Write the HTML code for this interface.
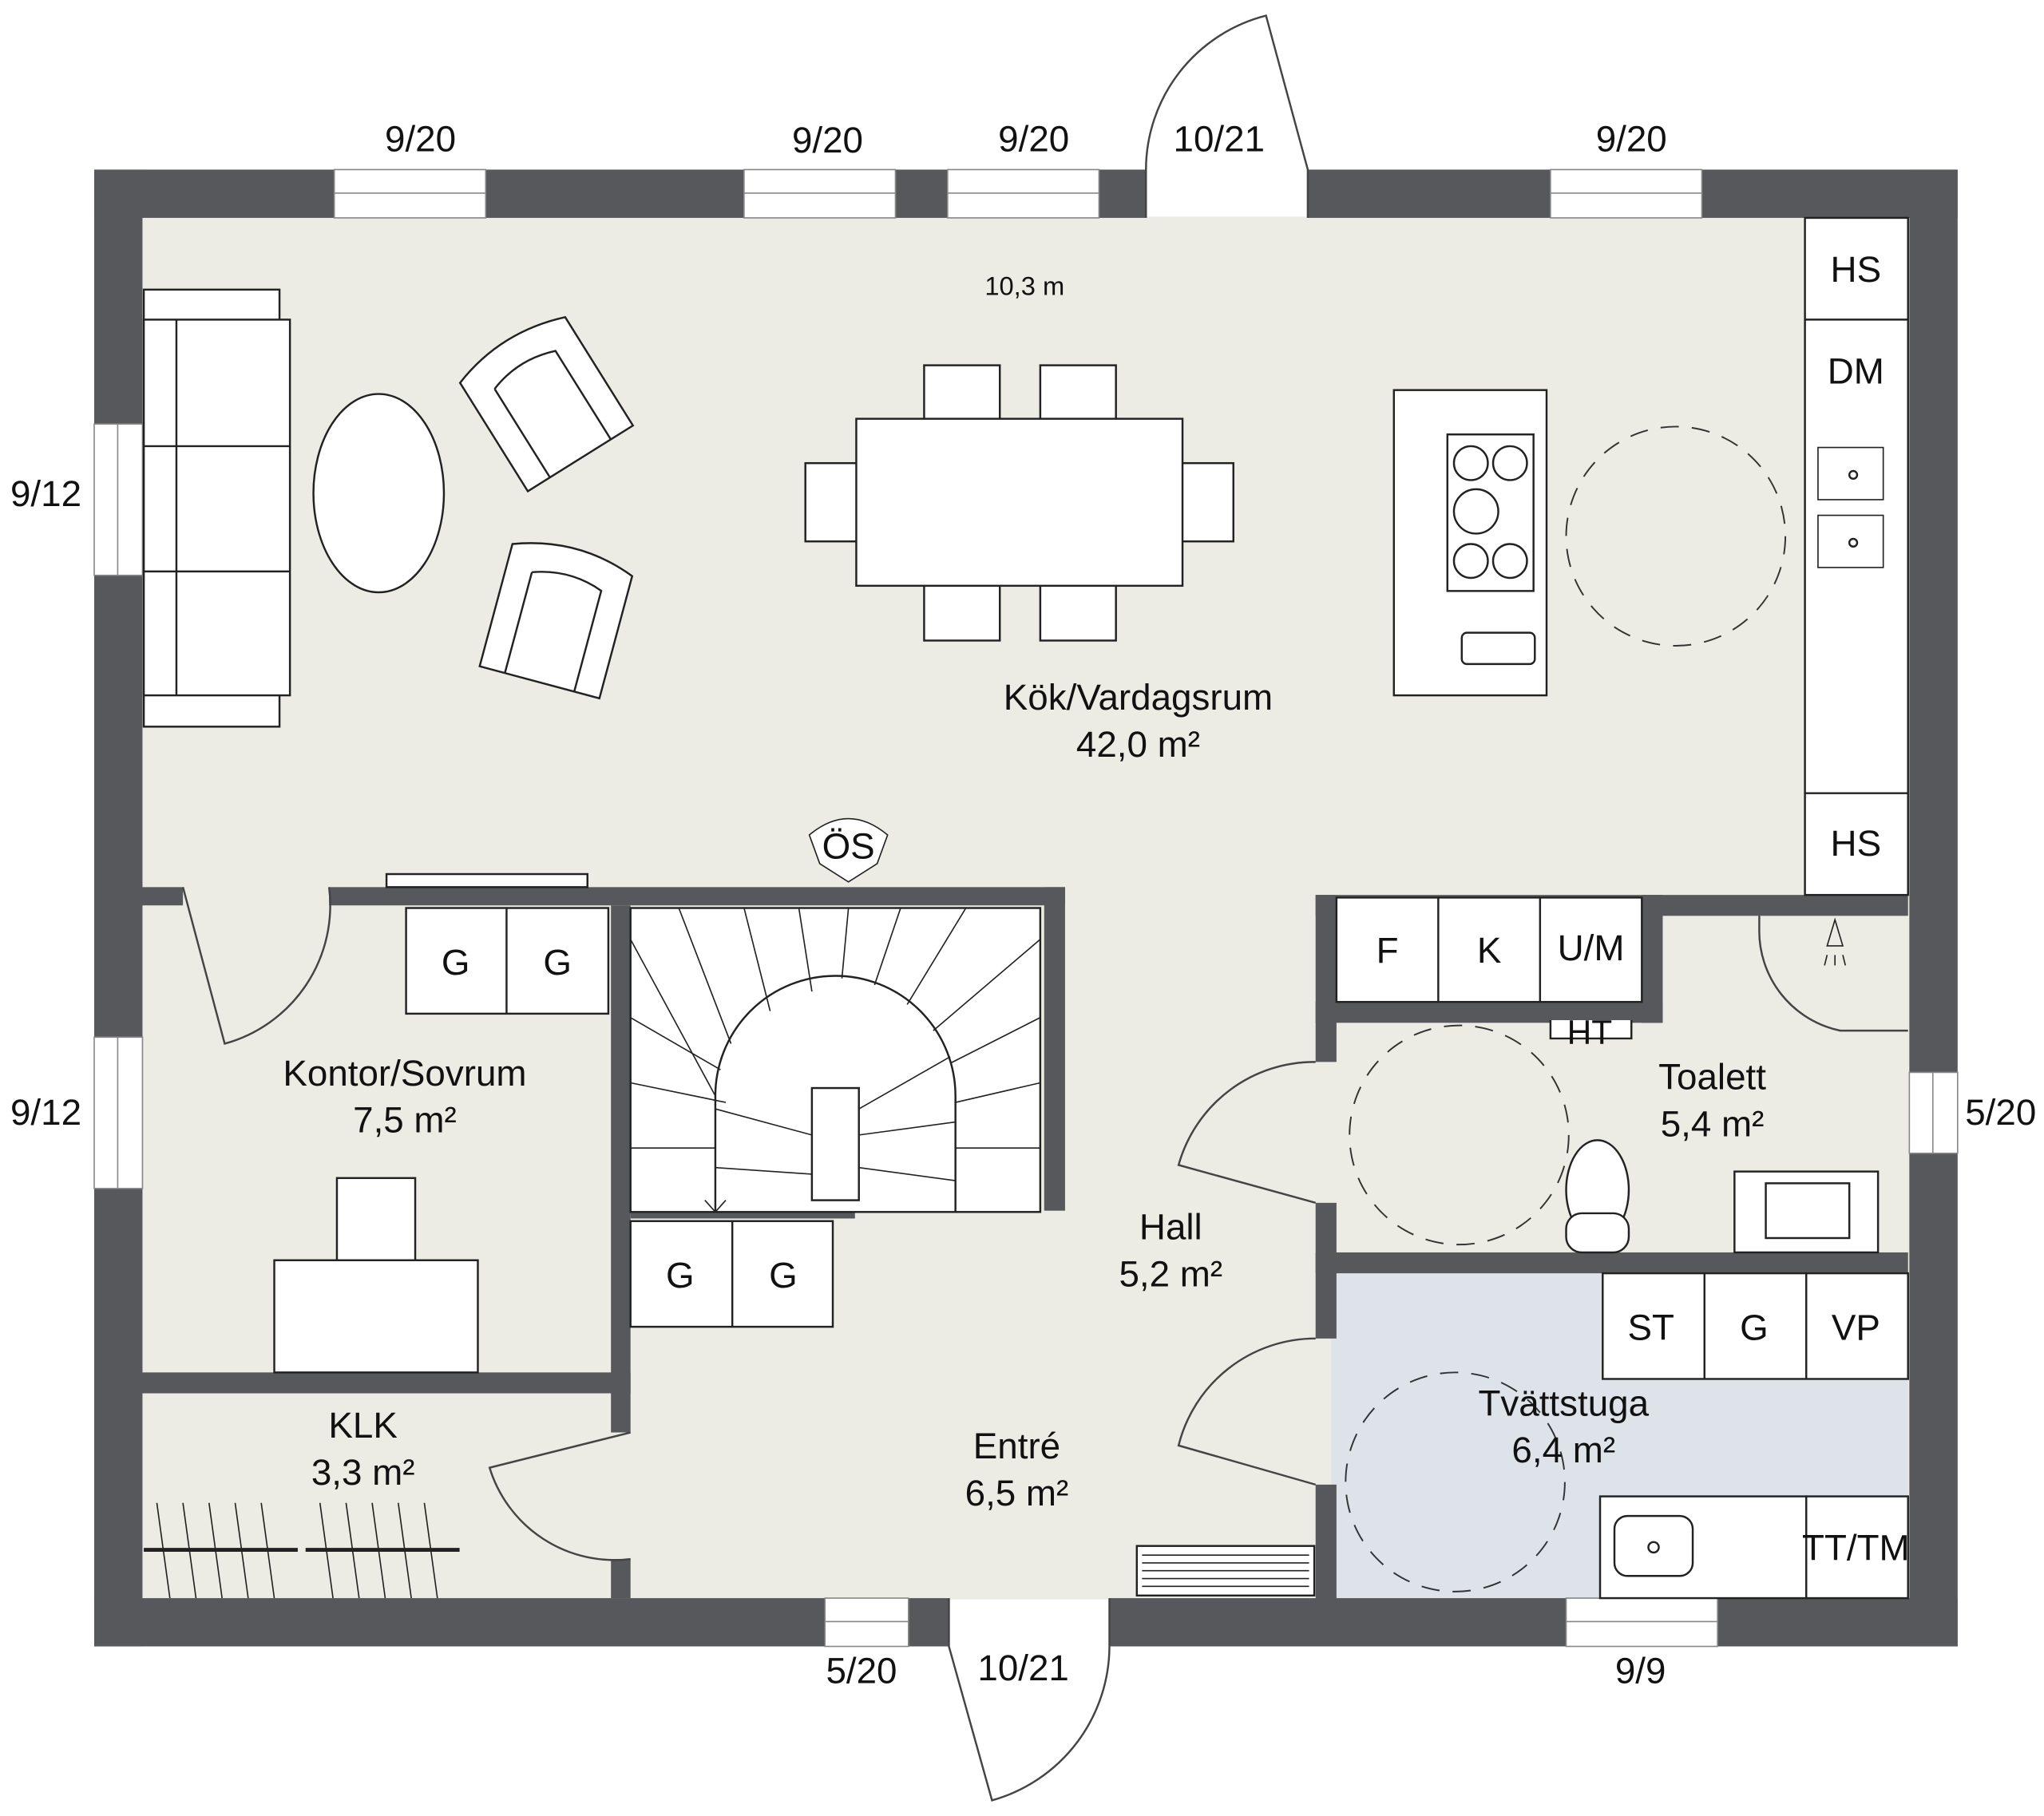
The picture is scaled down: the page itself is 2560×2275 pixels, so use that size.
<!DOCTYPE html>
<html><head><meta charset="utf-8"><style>html,body{margin:0;padding:0;background:#fff}svg{display:block}</style></head><body>
<svg width="2560" height="2275" viewBox="0 0 1566 1392" xmlns="http://www.w3.org/2000/svg" font-family="Liberation Sans, sans-serif">
<g>
<rect x="108" y="166" width="1355" height="1060" fill="#ecece4"/>
<rect x="1020" y="975" width="442" height="250" fill="#dee3ea"/>
<g fill="#56585c">
<rect x="72" y="130" width="806" height="37"/>
<rect x="1002" y="130" width="498" height="37"/>
<rect x="72" y="130" width="37" height="1132"/>
<rect x="1463" y="130" width="37" height="1132"/>
<rect x="72" y="1225" width="655" height="37"/>
<rect x="850" y="1225" width="650" height="37"/>
<rect x="108" y="680" width="32" height="14"/>
<rect x="252" y="680" width="564" height="14"/>
<rect x="800" y="680" width="16" height="248"/>
<rect x="468" y="694" width="15" height="404"/>
<rect x="468" y="1195" width="15" height="30"/>
<rect x="108" y="1052" width="375" height="16"/>
<rect x="483" y="920" width="172" height="14"/>
<rect x="1008" y="686" width="16" height="128"/>
<rect x="1008" y="922" width="16" height="104"/>
<rect x="1008" y="1138" width="16" height="88"/>
<rect x="1008" y="686" width="454" height="16"/>
<rect x="1008" y="768" width="266" height="16"/>
<rect x="1258" y="686" width="16" height="98"/>
<rect x="1008" y="960" width="454" height="16"/>
</g>
<g fill="#fff" stroke="#888" stroke-width="1">
<rect x="256" y="130" width="116" height="37"/><line x1="256" y1="148" x2="372" y2="148"/>
<rect x="570" y="130" width="116" height="37"/><line x1="570" y1="148" x2="686" y2="148"/>
<rect x="726" y="130" width="116" height="37"/><line x1="726" y1="148" x2="842" y2="148"/>
<rect x="1188" y="130" width="116" height="37"/><line x1="1188" y1="148" x2="1304" y2="148"/>
<rect x="72" y="325" width="37" height="116"/><line x1="90" y1="325" x2="90" y2="441"/>
<rect x="72" y="795" width="37" height="116"/><line x1="90" y1="795" x2="90" y2="911"/>
<rect x="1463" y="822" width="37" height="62"/><line x1="1481" y1="822" x2="1481" y2="884"/>
<rect x="632" y="1225" width="64" height="37"/><line x1="632" y1="1243" x2="696" y2="1243"/>
<rect x="1200" y="1225" width="116" height="37"/><line x1="1200" y1="1243" x2="1316" y2="1243"/>
</g>
<g fill="none" stroke="#444" stroke-width="1.5">
<path d="M878 167 L878 130 A 122 122 0 0 1 970 12 L1002 130 L1002 167"/>
<path d="M727 1225 L727 1262 L760 1380 A 123 123 0 0 0 850 1262 L850 1225"/>
<path d="M140 680 L172 800 A 110 110 0 0 0 252 680"/>
<path d="M483 1098 L375 1125 A 100 100 0 0 0 483 1195"/>
<path d="M1008 922 L903 893 A 108 108 0 0 1 1008 814"/>
<path d="M1008 1138 L903 1108 A 108 108 0 0 1 1008 1026"/>
<path d="M1348 702 L1348 712 A 78 78 0 0 0 1410 790 L1462 790"/>
</g>
<g fill="#fff" stroke="#222" stroke-width="1.5">
<rect x="1383" y="167" width="79" height="519"/>
<line x1="1383" y1="245" x2="1462" y2="245"/><line x1="1383" y1="608" x2="1462" y2="608"/>
<rect x="1393" y="343" width="50" height="40" stroke-width="1"/><circle cx="1420" cy="364" r="3"/>
<rect x="1393" y="395" width="50" height="40" stroke-width="1"/><circle cx="1420" cy="416" r="3"/>
<rect x="1068" y="299" width="117" height="234"/>
<rect x="1109" y="333" width="66" height="120"/>
<circle cx="1127" cy="355" r="13"/><circle cx="1157" cy="355" r="13"/><circle cx="1131" cy="392" r="17"/><circle cx="1127" cy="430" r="13"/><circle cx="1157" cy="430" r="13"/>
<rect x="1120" y="485" width="56" height="24" rx="4"/>
<rect x="110" y="222" width="104" height="335"/>
<rect x="110" y="245" width="112" height="288"/>
<line x1="135" y1="245" x2="135" y2="533"/><line x1="110" y1="342" x2="222" y2="342"/><line x1="110" y1="438" x2="222" y2="438"/>
<ellipse cx="290" cy="378" rx="50" ry="76"/>
<g transform="rotate(-32 415 305)"><path d="M368 262 Q415 245 463 262 L463 360 L368 360 Z"/><path d="M388 280 Q415 270 443 280 L443 360 M388 280 L388 360"/></g>
<g transform="rotate(15 428 470)"><path d="M380 428 Q428 410 475 428 L475 525 L380 525 Z"/><path d="M400 445 Q428 435 455 445 L455 525 M400 445 L400 525"/></g>
<rect x="708" y="280" width="58" height="42"/><rect x="797" y="280" width="58" height="42"/>
<rect x="708" y="449" width="58" height="42"/><rect x="797" y="449" width="58" height="42"/>
<rect x="617" y="355" width="40" height="60"/><rect x="905" y="355" width="40" height="60"/>
<rect x="656" y="321" width="250" height="128"/>
<rect x="1024" y="688" width="234" height="80"/><line x1="1102" y1="688" x2="1102" y2="768"/><line x1="1180" y1="688" x2="1180" y2="768"/>
<rect x="311" y="696" width="155" height="81"/><line x1="388" y1="696" x2="388" y2="777"/>
<rect x="483" y="936" width="155" height="81"/><line x1="561" y1="936" x2="561" y2="1017"/>
<rect x="258" y="903" width="60" height="65"/>
<rect x="210" y="966" width="156" height="86"/>
<rect x="1228" y="976" width="234" height="81"/><line x1="1306" y1="976" x2="1306" y2="1057"/><line x1="1384" y1="976" x2="1384" y2="1057"/>
<rect x="1226" y="1147" width="158" height="78"/><rect x="1384" y="1147" width="78" height="78"/>
<rect x="1237" y="1162" width="60" height="46" rx="10"/><circle cx="1267" cy="1186" r="4"/>
<rect x="1329" y="898" width="110" height="62"/><rect x="1353" y="907" width="64" height="42"/>
<ellipse cx="1224" cy="912" rx="24" ry="38"/><rect x="1200" y="930" width="48" height="30" rx="12"/>
<rect x="483" y="696" width="314" height="233"/>
<rect x="622" y="834" width="36" height="86"/>
<path d="M548 929 L548 840 A 92 92 0 0 1 732 840 L732 929" fill="none"/>
<rect x="871" y="1185" width="136" height="38"/>
<rect x="296" y="670" width="154" height="10"/>
</g>
<g stroke="#222" stroke-width="1" fill="none">
<path d="M875 1192 H1003 M875 1198 H1003 M875 1204 H1003 M875 1210 H1003 M875 1216 H1003"/>
<line x1="483" y1="720" x2="548" y2="840"/><line x1="483" y1="780" x2="552" y2="820"/><line x1="483" y1="830" x2="556" y2="845"/><line x1="483" y1="880" x2="548" y2="880"/>
<line x1="520" y1="696" x2="560" y2="800"/><line x1="570" y1="696" x2="590" y2="775"/><line x1="612" y1="696" x2="622" y2="760"/><line x1="650" y1="696" x2="645" y2="750"/><line x1="690" y1="696" x2="670" y2="755"/><line x1="740" y1="696" x2="695" y2="770"/><line x1="797" y1="720" x2="715" y2="790"/>
<line x1="797" y1="780" x2="728" y2="815"/><line x1="797" y1="830" x2="732" y2="845"/><line x1="797" y1="880" x2="732" y2="880"/>
<line x1="658" y1="850" x2="728" y2="810"/><line x1="658" y1="870" x2="732" y2="860"/><line x1="658" y1="895" x2="732" y2="905"/><line x1="548" y1="850" x2="622" y2="870"/><line x1="548" y1="895" x2="622" y2="900"/>
<path d="M548 905 L548 929 M540 920 L548 929 L556 920"/>
<path d="M620 640 Q650 615 680 640 L672 662 L650 676 L628 662 Z" fill="#fff"/>
<line x1="110" y1="1188" x2="228" y2="1188" stroke-width="3"/><line x1="234" y1="1188" x2="352" y2="1188" stroke-width="3"/>
<path d="M120 1152 L130 1225 M140 1152 L150 1225 M160 1152 L170 1225 M180 1152 L190 1225 M200 1152 L210 1225 M245 1152 L255 1225 M265 1152 L275 1225 M285 1152 L295 1225 M305 1152 L315 1225 M325 1152 L335 1225"/>
<g stroke-width="1.5" fill="#fff"><path d="M1188 782 L1188 796 L1250 796 L1250 782"/></g>
<path d="M1406 705 L1400 725 L1412 725 Z M1400 732 L1398 740 M1406 732 L1406 740 M1412 732 L1414 740"/>
</g>
<g fill="none" stroke="#333" stroke-width="1.2" stroke-dasharray="14 10">
<circle cx="1284" cy="411" r="84"/>
<circle cx="1118" cy="870" r="84"/>
<circle cx="1115" cy="1136" r="84"/>
</g>
<g fill="#111" font-size="28" text-anchor="middle">
<text x="322" y="116">9/20</text><text x="634" y="117">9/20</text><text x="792" y="116">9/20</text><text x="934" y="116">10/21</text><text x="1250" y="116">9/20</text>
<text x="35" y="388">9/12</text><text x="35" y="862">9/12</text><text x="1533" y="862">5/20</text>
<text x="660" y="1290">5/20</text><text x="784" y="1288">10/21</text><text x="1257" y="1290">9/9</text>
<text x="785" y="226" font-size="20">10,3 m</text>
<text x="872" y="544">Kök/Vardagsrum</text><text x="872" y="580">42,0 m²</text>
<text x="310" y="832">Kontor/Sovrum</text><text x="310" y="868">7,5 m²</text>
<text x="278" y="1102">KLK</text><text x="278" y="1138">3,3 m²</text>
<text x="779" y="1118">Entré</text><text x="779" y="1154">6,5 m²</text>
<text x="897" y="950">Hall</text><text x="897" y="986">5,2 m²</text>
<text x="1312" y="835">Toalett</text><text x="1312" y="871">5,4 m²</text>
<text x="1198" y="1085">Tvättstuga</text><text x="1198" y="1121">6,4 m²</text>
<text x="1422" y="216">HS</text><text x="1422" y="294">DM</text><text x="1422" y="656">HS</text>
<text x="1063" y="738">F</text><text x="1141" y="738">K</text><text x="1219" y="736">U/M</text>
<text x="1218" y="800" font-size="26">HT</text>
<text x="349" y="747">G</text><text x="427" y="747">G</text><text x="521" y="987">G</text><text x="600" y="987">G</text>
<text x="1265" y="1027">ST</text><text x="1344" y="1027">G</text><text x="1422" y="1027">VP</text>
<text x="1422" y="1196">TT/TM</text>
<text x="650" y="658">ÖS</text>
</g>
</svg>
</body></html>
